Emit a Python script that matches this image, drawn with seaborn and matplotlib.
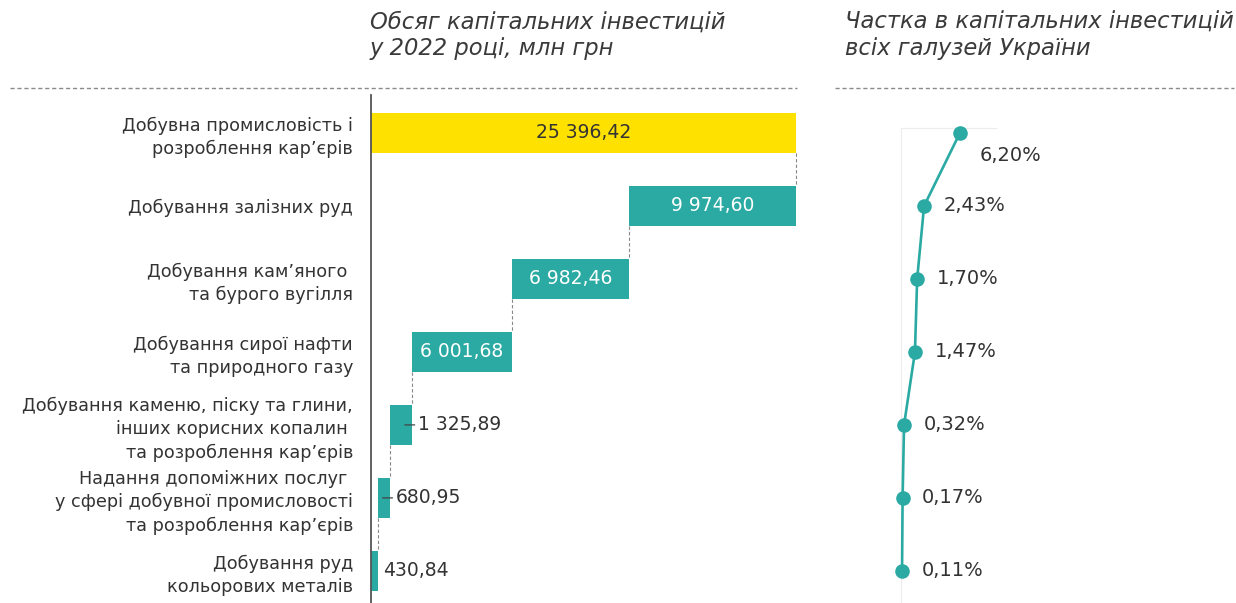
import matplotlib
matplotlib.use("Agg")
import matplotlib.pyplot as plt
from matplotlib.lines import Line2D
import seaborn as sns
import pandas as pd

# Categories (top row is the industry total)
categories = [
    "Добувна промисловість і\nрозроблення кар’єрів",
    "Добування залізних руд",
    "Добування кам’яного \nта бурого вугілля",
    "Добування сирої нафти\nта природного газу",
    "Добування каменю, піску та глини,\nінших корисних копалин \nта розроблення кар’єрів",
    "Надання допоміжних послуг \nу сфері добувної промисловості\nта розроблення кар’єрів",
    "Добування руд\nкольорових металів",
]
# Capital investment in 2022, mln UAH
investment = [25396.42, 9974.60, 6982.46, 6001.68, 1325.89, 680.95, 430.84]
investment_labels = ["25 396,42", "9 974,60", "6 982,46", "6 001,68",
                     "1 325,89", "680,95", "430,84"]
# Share in capital investment of all industries of Ukraine, %
share = [6.20, 2.43, 1.70, 1.47, 0.32, 0.17, 0.11]
share_labels = ["6,20%", "2,43%", "1,70%", "1,47%", "0,32%", "0,17%", "0,11%"]

YELLOW = "#FFE100"
TEAL = "#2AAAA3"
TEXT = "#333333"

sns.set_theme(style="white")
plt.rcParams["font.family"] = ["DejaVu Sans"]

# Waterfall starts: total starts at 0, components stack down from the total
starts = [0.0]
running = investment[0]
for v in investment[1:]:
    running -= v
    starts.append(running)

df = pd.DataFrame({"cat": categories, "value": investment})

fig = plt.figure(figsize=(12.36, 6.03), dpi=100)
W, H = 1236, 603

# ---- left panel: waterfall bars ----
ax = fig.add_axes([371 / W, 0, (796 - 371) / W, (603 - 95) / H])
palette = [YELLOW] + [TEAL] * (len(categories) - 1)
sns.barplot(data=df, y="cat", x="value", hue="cat", palette=palette,
            order=categories, hue_order=categories, dodge=False,
            width=0.55, legend=False, saturation=1, ax=ax)
for p in ax.patches:
    row = int(round(p.get_y() + p.get_height() / 2))
    p.set_x(starts[row])
    p.set_width(investment[row])
    p.set_edgecolor("none")

ax.set_xlim(0, investment[0])
ax.set_ylim(6.44, -0.52)
ax.set_xlabel("")
ax.set_ylabel("")
ax.set_xticks([])
for s in ["top", "right", "bottom"]:
    ax.spines[s].set_visible(False)
ax.spines["left"].set_color("#555555")
ax.spines["left"].set_linewidth(1.3)
ax.tick_params(axis="y", length=0, pad=13, labelsize=12.7, labelcolor=TEXT)
for t in ax.get_yticklabels():
    t.set_linespacing(1.36)
    t.set_ha("right")

# dashed connectors between consecutive bars
half = 0.55 / 2
for i in range(len(investment) - 1):
    xc = starts[i + 1] + investment[i + 1]
    ax.plot([xc, xc], [i + half, i + 1 - half], color="#888888",
            lw=0.8, ls=(0, (3, 2)), clip_on=False, zorder=0)

# value labels
px = investment[0] / (796 - 371)  # data units per pixel
for i, (v, lab) in enumerate(zip(investment, investment_labels)):
    end = starts[i] + v
    if i < 4:
        ax.text(starts[i] + v / 2, i, lab, ha="center", va="center",
                fontsize=13.5, color=TEXT if i == 0 else "white")
    elif i < 6:
        ax.annotate(lab, xy=(end - 7 * px, i), xytext=(9.5, 0),
                    textcoords="offset points", ha="left", va="center",
                    fontsize=13.5, color=TEXT,
                    arrowprops=dict(arrowstyle="-", color="#444444", lw=0.9,
                                    shrinkA=0, shrinkB=0))
    else:
        ax.annotate(lab, xy=(end, i), xytext=(3.5, 0),
                    textcoords="offset points", ha="left", va="center",
                    fontsize=13.5, color=TEXT)

# ---- right panel: share line ----
ax2 = fig.add_axes([901 / W, 0, 95 / W, (603 - 128) / H])
sdf = pd.DataFrame({"share": share, "row": list(range(len(share)))})
sns.lineplot(data=sdf, x="share", y="row", sort=False, estimator=None,
             color=TEAL, lw=1.9, marker="o", markersize=10.5,
             markeredgewidth=0, ax=ax2)
for ln in ax2.lines:
    ln.set_clip_on(False)
ax2.set_xlim(0, 10)
ax2.set_ylim(6.44, -0.068)
ax2.set_xticks([])
ax2.set_yticks([])
ax2.set_xlabel("")
ax2.set_ylabel("")
for s in ["right", "bottom"]:
    ax2.spines[s].set_visible(False)
for s in ["left", "top"]:
    ax2.spines[s].set_color("#ececec")
    ax2.spines[s].set_linewidth(0.8)
    ax2.spines[s].set_zorder(0)
for i, (v, lab) in enumerate(zip(share, share_labels)):
    dy = -16 if i == 0 else 0
    ax2.annotate(lab, xy=(v, i), xytext=(14, dy), textcoords="offset points",
                 ha="left", va="center", fontsize=14, color=TEXT,
                 annotation_clip=False)

# ---- titles and separators ----
fig.text(370 / W, 1 - 11 / H,
         "Обсяг капітальних інвестицій\nу 2022 році, млн грн",
         ha="left", va="top", fontsize=16.3, style="italic", color="#3a3a3a",
         linespacing=1.15)
fig.text(845 / W, 1 - 11 / H,
         "Частка в капітальних інвестицій\nвсіх галузей України",
         ha="left", va="top", fontsize=16.3, style="italic", color="#3a3a3a",
         linespacing=1.15)
for x0, x1 in [(10, 797), (835, 1234)]:
    fig.add_artist(Line2D([x0 / W, x1 / W], [1 - 88 / H] * 2,
                          color="#8a8a8a", lw=1.0, ls=(0, (3, 2))))

fig.savefig("out.png", dpi=100, facecolor="white")
